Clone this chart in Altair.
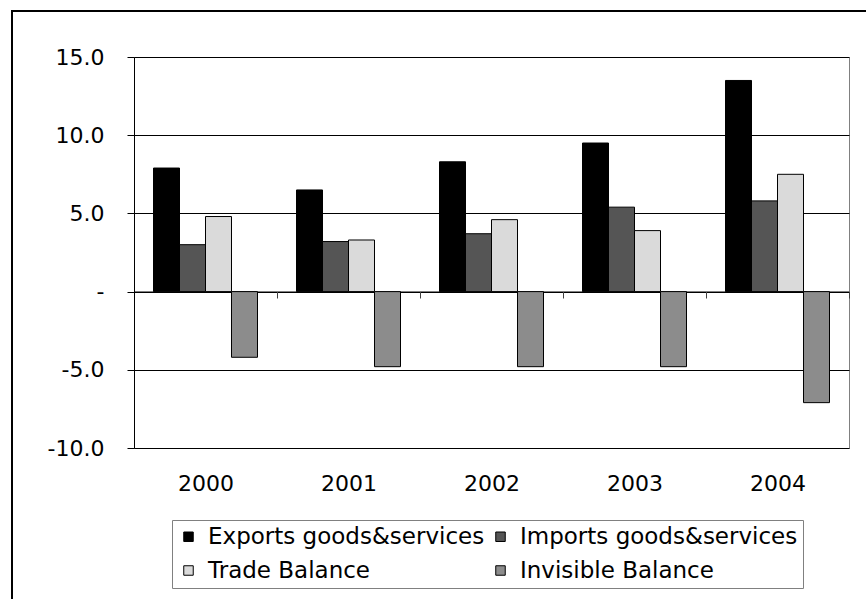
import altair as alt
import pandas as pd

years = ["2000", "2001", "2002", "2003", "2004"]
series = ["Exports goods&services", "Imports goods&services", "Trade Balance", "Invisible Balance"]
exports = [7.9, 6.5, 8.3, 9.5, 13.5]
imports = [3.0, 3.2, 3.7, 5.4, 5.8]
trade = [4.8, 3.3, 4.6, 3.9, 7.5]
invisible = [-4.2, -4.8, -4.8, -4.8, -7.1]
colors = ["#000000", "#555555", "#dadada", "#8c8c8c"]
y_ticks = [-10, -5, 0, 5, 10, 15]

rows = []
for s, vals in zip(series, [exports, imports, trade, invisible]):
    for yr, v in zip(years, vals):
        rows.append({"Year": yr, "Series": s, "Value": v})
df = pd.DataFrame(rows)

FONT = "DejaVu Sans"

bars = alt.Chart(df).mark_bar(stroke="black", strokeWidth=1).encode(
    x=alt.X(
        "Year:N", sort=years, title=None,
        scale=alt.Scale(paddingInner=0, paddingOuter=0),
        axis=alt.Axis(offset=-157, tickBand="extent", tickSize=7, labelPadding=175,
                      domainColor="#808080", tickColor="#404040", labelAngle=0,
                      labelFontSize=22, labelColor="black", labelFont=FONT, grid=False),
    ),
    xOffset=alt.XOffset("Series:N", sort=series,
                        scale=alt.Scale(paddingInner=0, paddingOuter=0.75)),
    y=alt.Y(
        "Value:Q", title=None,
        scale=alt.Scale(domain=[-10, 15], nice=False),
        axis=alt.Axis(values=y_ticks,
                      labelExpr="datum.value == 0 ? '-' : (datum.value < 0 ? '-' : '') + format(abs(datum.value), '.1f')",
                      tickSize=7, labelPadding=23, domainColor="black", tickColor="black",
                      gridColor="black", gridWidth=1, labelFontSize=22, labelColor="black",
                      labelFont=FONT),
    ),
    color=alt.Color(
        "Series:N", sort=series,
        scale=alt.Scale(domain=series, range=colors),
        legend=alt.Legend(
            title=None, orient="none", legendX=38, legendY=463, columns=2,
            direction="horizontal",
            strokeColor="#808080", fillColor="white", padding=5,
            symbolType="square", symbolSize=90, symbolStrokeColor="black",
            symbolStrokeWidth=1, symbolOpacity=1,
            labelFontSize=23, labelFont=FONT, labelColor="black", labelOffset=8,
            labelLimit=0, columnPadding=4, rowPadding=10,
        ),
    ),
)

frame = alt.Chart(pd.DataFrame({"a": [0]})).mark_rect(
    fillOpacity=0, stroke="black", strokeWidth=2
).encode(
    x=alt.value(-122), x2=alt.value(760), y=alt.value(-46), y2=alt.value(600)
)

chart = alt.layer(frame, bars).properties(
    width=715, height=391,
    padding={"left": 134, "top": 57, "right": 17, "bottom": 151},
    autosize=alt.AutoSizeParams(type="none"),
    background="white",
).configure_view(stroke="#808080", strokeWidth=1)

chart.save("out.html", embed_options={"renderer": "svg", "actions": False})
